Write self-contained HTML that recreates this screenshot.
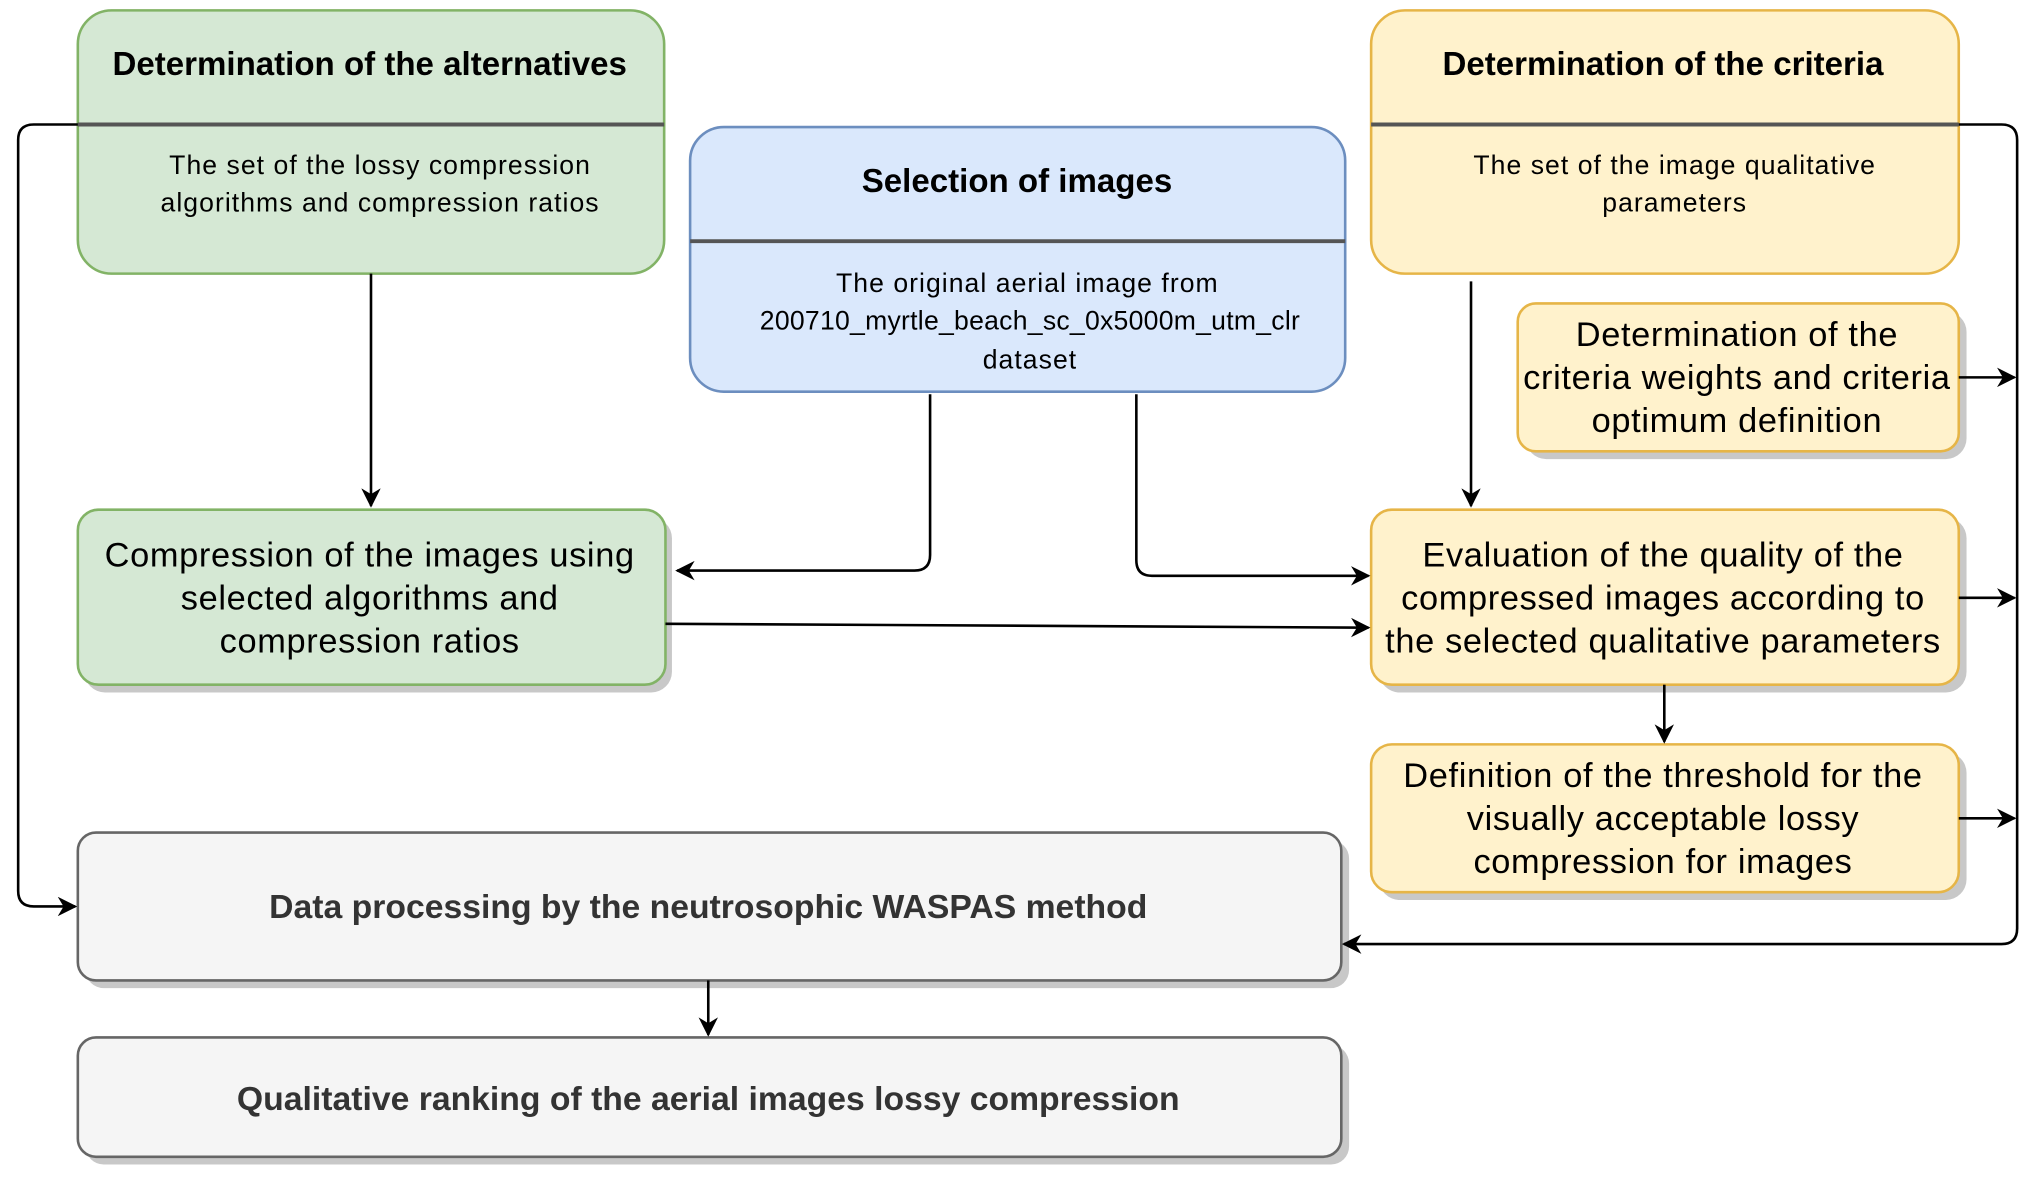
<!DOCTYPE html>
<html><head><meta charset="utf-8"><style>html,body{margin:0;padding:0;background:#fff}svg{display:block}</style></head>
<body>
<svg width="2034" height="1184" viewBox="0 0 1568 913" preserveAspectRatio="none" xmlns="http://www.w3.org/2000/svg" font-family="Liberation Sans, sans-serif">
<defs>
<marker id="a" viewBox="0 0 10 10" refX="9" refY="5" markerWidth="15" markerHeight="15" markerUnits="userSpaceOnUse" orient="auto"><path d="M0,0 L10,5 L0,10 L3,5 Z" fill="#000"/></marker>
</defs>
<g fill="#c8c8c8">
<rect x="65" y="399" width="453" height="135" rx="16"/>
<rect x="1176" y="240" width="340" height="114" rx="16"/>
<rect x="1063" y="399" width="453" height="135" rx="16"/>
<rect x="1063" y="580" width="453" height="114" rx="16"/>
<rect x="66" y="648" width="974" height="114" rx="14"/>
<rect x="66" y="806" width="974" height="92" rx="14"/>
</g>
<rect x="60" y="8" width="452" height="203" rx="26" fill="#d5e8d4" stroke="#82b366" stroke-width="2"/>
<line x1="60" y1="96" x2="512" y2="96" stroke="#555" stroke-width="3"/>
<rect x="532" y="98" width="505" height="204" rx="26" fill="#dae8fc" stroke="#6c8ebf" stroke-width="2"/>
<line x1="532" y1="186" x2="1037" y2="186" stroke="#555" stroke-width="3"/>
<rect x="1057" y="8" width="453" height="203" rx="26" fill="#fff2cc" stroke="#e6b547" stroke-width="2"/>
<line x1="1057" y1="96" x2="1510" y2="96" stroke="#555" stroke-width="3"/>
<rect x="1170" y="234" width="340" height="114" rx="14" fill="#fff2cc" stroke="#e6b547" stroke-width="2"/>
<rect x="60" y="393" width="453" height="135" rx="16" fill="#d5e8d4" stroke="#82b366" stroke-width="2"/>
<rect x="1057" y="393" width="453" height="135" rx="16" fill="#fff2cc" stroke="#e6b547" stroke-width="2"/>
<rect x="1057" y="574" width="453" height="114" rx="16" fill="#fff2cc" stroke="#e6b547" stroke-width="2"/>
<rect x="60" y="642" width="974" height="114" rx="14" fill="#f5f5f5" stroke="#666" stroke-width="2"/>
<rect x="60" y="800" width="974" height="92" rx="14" fill="#f5f5f5" stroke="#666" stroke-width="2"/>
<g text-anchor="middle" fill="#000">
<text x="285" y="58" font-size="25.5" font-weight="bold">Determination of the alternatives</text>
<text x="293" y="134" font-size="20.5" letter-spacing="0.8">The set of the lossy compression</text>
<text x="293" y="163" font-size="20.5" letter-spacing="0.8">algorithms and compression ratios</text>
<text x="784" y="148" font-size="25.5" font-weight="bold">Selection of images</text>
<text x="792" y="225" font-size="20.5" letter-spacing="0.8">The original aerial image from</text>
<text x="794" y="254" font-size="20.5" letter-spacing="0.2">200710_myrtle_beach_sc_0x5000m_utm_clr</text>
<text x="794" y="284" font-size="20.5" letter-spacing="0.8">dataset</text>
<text x="1282" y="58" font-size="25.5" font-weight="bold">Determination of the criteria</text>
<text x="1291" y="134" font-size="20.5" letter-spacing="0.8">The set of the image qualitative</text>
<text x="1291" y="163" font-size="20.5" letter-spacing="0.8">parameters</text>
<g font-size="26.5" letter-spacing="0.5">
<text x="1339" y="267">Determination of the</text>
<text x="1339" y="300">criteria weights and criteria</text>
<text x="1339" y="333">optimum definition</text>
<text x="285" y="437">Compression of the images using</text>
<text x="285" y="470">selected algorithms and</text>
<text x="285" y="503">compression ratios</text>
<text x="1282" y="437">Evaluation of the quality of the</text>
<text x="1282" y="470">compressed images according to</text>
<text x="1282" y="503">the selected qualitative parameters</text>
<text x="1282" y="607">Definition of the threshold for the</text>
<text x="1282" y="640">visually acceptable lossy</text>
<text x="1282" y="673">compression for images</text>
</g>
<text x="546" y="708" font-size="26" font-weight="bold" fill="#333">Data processing by the neutrosophic WASPAS method</text>
<text x="546" y="856" font-size="26" font-weight="bold" fill="#333">Qualitative ranking of the aerial images lossy compression</text>
</g>
<g fill="none" stroke="#000" stroke-width="2" marker-end="url(#a)">
<path d="M60,96 H26 Q14,96 14,108 V687 Q14,699 26,699 H58"/>
<path d="M286,211 V390"/>
<path d="M717,304 V428 Q717,440 705,440 H522"/>
<path d="M876,304 V432 Q876,444 888,444 H1055"/>
<path d="M513,481 L1055,484"/>
<path d="M1134,217 V390"/>
<path d="M1510,96 H1543 Q1555,96 1555,108 V716 Q1555,728 1543,728 H1036"/>
<path d="M1510,291 H1553"/>
<path d="M1510,461 H1553"/>
<path d="M1510,631 H1553"/>
<path d="M1283,528 V572"/>
<path d="M546,756 V798"/>
</g>
</svg>
</body></html>
